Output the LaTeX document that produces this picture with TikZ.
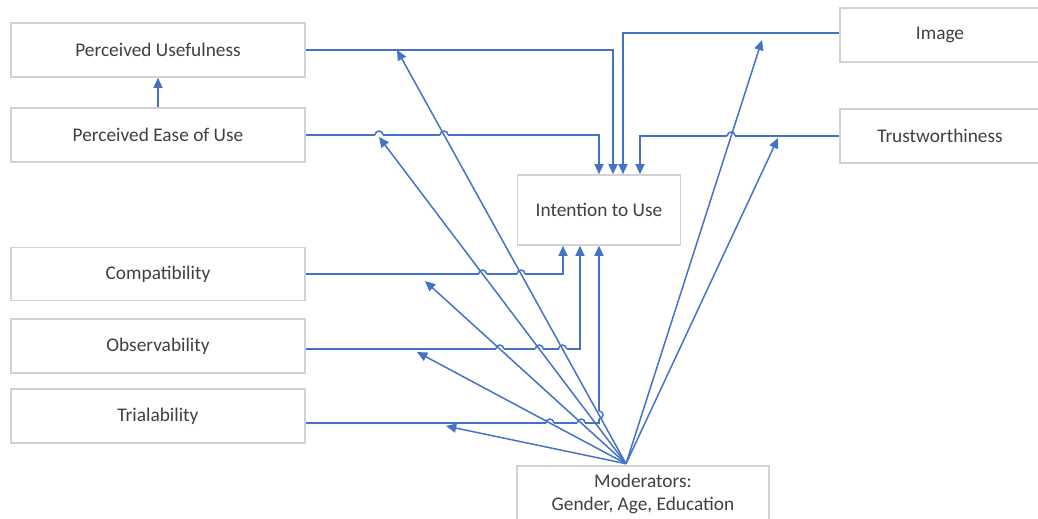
\documentclass[tikz,border=0pt]{standalone}
\usepackage{fontspec}
\setmainfont{Carlito}
\usetikzlibrary{arrows.meta}
\definecolor{lineblue}{RGB}{68,114,196}
\definecolor{boxgray}{RGB}{210,210,210}
\definecolor{txtgray}{RGB}{64,64,64}
\newcommand{\hopH}[1]{%
  \fill[white] ([xshift=-0.08cm,yshift=-0.045cm]#1) rectangle ([xshift=0.08cm,yshift=0.045cm]#1);
  \draw[plainline] ([xshift=-0.08cm]#1) arc[start angle=180,end angle=0,radius=0.08cm];}
\newcommand{\hopV}[1]{%
  \fill[white] ([xshift=-0.045cm,yshift=-0.08cm]#1) rectangle ([xshift=0.045cm,yshift=0.08cm]#1);
  \draw[plainline] ([yshift=0.08cm]#1) arc[start angle=90,end angle=-90,radius=0.08cm];}
\begin{document}
\begin{tikzpicture}[x=0.02cm,y=-0.02cm,
  box/.style={draw=boxgray, line width=0.9pt, fill=white, text=txtgray,
    font=\fontsize{11}{13}\selectfont, minimum height=1.08cm, inner sep=0pt, align=center},
  conn/.style={draw=lineblue, line width=0.85pt, -{Triangle[length=5.8pt,width=5.2pt]}},
  plainline/.style={draw=lineblue, line width=0.85pt}]
\useasboundingbox (0,0) rectangle (1038,519);
% boxes
\node[box, minimum width=5.88cm] (pu) at (158,50) {Perceived Usefulness};
\node[box, minimum width=5.88cm] (peou) at (158,135) {Perceived Ease of Use};
\node[box, minimum width=5.88cm, minimum height=1.06cm] (comp) at (158,274) {Compatibility};
\node[box, minimum width=5.88cm] (obs) at (158,346) {Observability};
\node[box, minimum width=5.88cm] (trial) at (158,416) {Trialability};
\node[box, minimum width=4cm] (img) at (940,35) {Image};
\node[box, minimum width=4cm] (trust) at (940,136) {Trustworthiness};
\node[box, minimum width=3.26cm, minimum height=1.4cm] (intent) at (599,210) {Intention to Use};
\node[box, minimum width=5.04cm, minimum height=1.12cm] (mod) at (643,494) {Moderators:\\Gender, Age, Education};
% helper coordinates
\coordinate (Spu) at (pu.east);
\coordinate (Xpu) at ([xshift=0.28cm]intent.north);
\coordinate (Cpu) at (Spu -| Xpu);
\coordinate (Speou) at (peou.east);
\coordinate (Xpeou) at (intent.north);
\coordinate (Cpeou) at (Speou -| Xpeou);
\coordinate (Simg) at ([yshift=0.04cm]img.west);
\coordinate (Ximg) at ([xshift=0.48cm]intent.north);
\coordinate (Cimg) at (Simg -| Ximg);
\coordinate (Strust) at (trust.west);
\coordinate (Xtrust) at ([xshift=0.82cm]intent.north);
\coordinate (Ctrust) at (Strust -| Xtrust);
\coordinate (Scomp) at (comp.east);
\coordinate (Xcomp) at ([xshift=-0.72cm]intent.south);
\coordinate (Ccomp) at (Scomp -| Xcomp);
\coordinate (Sobs) at ([yshift=-0.06cm]obs.east);
\coordinate (Xobs) at ([xshift=-0.38cm]intent.south);
\coordinate (Cobs) at (Sobs -| Xobs);
\coordinate (Strial) at ([yshift=-0.14cm]trial.east);
\coordinate (Xtrial) at (intent.south);
\coordinate (Ctrial) at (Strial -| Xtrial);
% connectors into Intention to Use
\draw[conn] (peou.north) -- (pu.south);
\draw[conn] (Spu) -- (Cpu) -- (Xpu);
\draw[conn] (Speou) -- (Cpeou) -- (Xpeou);
\draw[conn] (Simg) -- (Cimg) -- (Ximg);
\draw[conn] (Strust) -- (Ctrust) -- (Xtrust);
\draw[conn] (Scomp) -- (Ccomp) -- (Xcomp);
\draw[conn] (Sobs) -- (Cobs) -- (Xobs);
\draw[conn] (Strial) -- (Ctrial) -- (Xtrial);
% moderator arrows
\coordinate (src) at ([xshift=-0.34cm,yshift=0.03cm]mod.north);
\coordinate (e1) at (397,50);
\coordinate (e2) at (379,137);
\coordinate (e3) at (425,281);
\coordinate (e4) at (417,352);
\coordinate (e5) at (446,426);
\coordinate (e6) at (762,40);
\coordinate (e7) at (778,138);
% line hops
\coordinate (h1) at (intersection of src--e1 and Speou--Cpeou);
\coordinate (h2) at (intersection of src--e1 and Scomp--Ccomp);
\coordinate (h3) at (intersection of src--e2 and Scomp--Ccomp);
\coordinate (h4) at (intersection of src--e1 and Sobs--Cobs);
\coordinate (h5) at (intersection of src--e2 and Sobs--Cobs);
\coordinate (h6) at (intersection of src--e3 and Sobs--Cobs);
\coordinate (h7) at (intersection of src--e3 and Strial--Ctrial);
\coordinate (h8) at (intersection of src--e4 and Strial--Ctrial);
\coordinate (h9) at (intersection of src--e1 and Ctrial--Xtrial);
\coordinate (h10) at (intersection of src--e6 and Strust--Ctrust);
\coordinate (h11) at (e2 |- Speou);
\foreach \h in {h1,h2,h3,h4,h5,h6,h7,h8,h10,h11} {\hopH{\h}}
\hopV{h9}
\foreach \e in {e1,e2,e3,e4,e5,e6,e7} {\draw[conn] (src) -- (\e);}
\end{tikzpicture}
\end{document}
